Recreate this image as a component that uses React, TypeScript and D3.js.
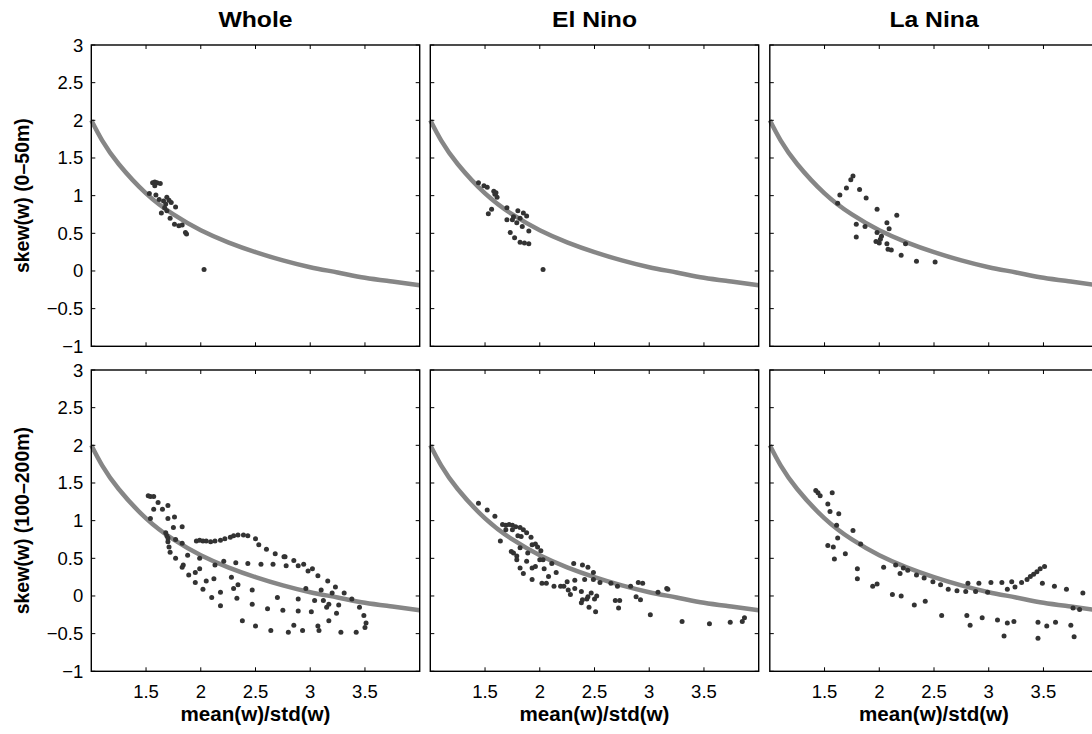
import React, { useRef, useEffect } from "react";
import * as d3 from "d3";

// panel titles and row labels
const columns = ["Whole", "El Nino", "La Nina"];
const rowLabels = ["skew(w) (0–50m)", "skew(w) (100–200m)"];

const xTicks = [1.5, 2, 2.5, 3, 3.5];
const yTicks = [-1, -0.5, 0, 0.5, 1, 1.5, 2, 2.5, 3];

// reference curve
const curveX = [1, 1.1, 1.25, 1.5, 1.75, 2, 2.25, 2.5, 2.75, 3, 3.25, 3.5, 3.75, 4];
const curveY = [2.0, 1.73, 1.42, 1.03, 0.75, 0.54, 0.38, 0.25, 0.14, 0.05, -0.02, -0.09, -0.14, -0.19];

// 0-50m
const wholeUpper = [
  [1.56, 1.17], [1.58, 1.18], [1.6, 1.17], [1.63, 1.16], [1.58, 1.13], [1.53, 1.03],
  [1.59, 1.01], [1.62, 0.95], [1.66, 0.93], [1.69, 0.98], [1.71, 0.94], [1.73, 0.91],
  [1.77, 0.85], [1.68, 0.89], [1.67, 0.84], [1.64, 0.77], [1.69, 0.8], [1.72, 0.7],
  [1.76, 0.62], [1.8, 0.6], [1.83, 0.61], [1.87, 0.49], [1.86, 0.51], [2.03, 0.02],
];
const ninoUpper = [
  [1.44, 1.17], [1.49, 1.13], [1.52, 1.11], [1.58, 1.06], [1.6, 1.04], [1.59, 1.02],
  [1.61, 0.98], [1.56, 0.82], [1.53, 0.76], [1.7, 0.84], [1.7, 0.68], [1.75, 0.68],
  [1.8, 0.8], [1.85, 0.77], [1.88, 0.73], [1.79, 0.64], [1.84, 0.59], [1.9, 0.53],
  [1.73, 0.51], [1.77, 0.44], [1.82, 0.38], [1.86, 0.37], [1.9, 0.36], [2.03, 0.02],
  [1.76, 0.72], [1.82, 0.7],
];
const ninaUpper = [
  [1.76, 1.26], [1.74, 1.21], [1.7, 1.1], [1.64, 1.01], [1.62, 0.9], [1.82, 1.08],
  [1.88, 0.97], [1.98, 0.82], [2.16, 0.74], [2.07, 0.64], [2.09, 0.56], [1.79, 0.62],
  [1.87, 0.59], [1.79, 0.45], [1.98, 0.51], [2.02, 0.46], [2.01, 0.42], [1.97, 0.39],
  [2.0, 0.37], [2.07, 0.36], [2.08, 0.29], [2.11, 0.28], [2.24, 0.36], [2.2, 0.21],
  [2.34, 0.13], [2.51, 0.12],
];

// 100-200m
const wholeLower = [
  [1.52, 1.33], [1.54, 1.32], [1.57, 1.32], [1.54, 1.03], [1.57, 1.15], [1.61, 1.24],
  [1.65, 1.15], [1.7, 1.2], [1.7, 1.03], [1.76, 1.05], [1.83, 0.92], [1.75, 0.91],
  [1.68, 0.84], [1.69, 0.8], [1.7, 0.77], [1.7, 0.72], [1.71, 0.65], [1.72, 0.58],
  [1.77, 0.5], [1.77, 0.75], [1.83, 0.7], [1.88, 0.54], [1.84, 0.41], [1.83, 0.38],
  [1.89, 0.28], [1.95, 0.31], [1.99, 0.36], [1.95, 0.18], [2.02, 0.09], [1.99, 0.5],
  [2.05, 0.2], [2.12, 0.23], [2.1, -0.02], [2.13, 0.41], [2.18, 0.05], [2.18, -0.13],
  [2.21, 0.46], [2.28, 0.25], [2.3, 0.1], [2.32, 0.44], [2.33, -0.03], [2.34, 0.15],
  [2.38, -0.33], [2.43, 0.43], [2.47, 0.08], [2.47, -0.11], [2.5, -0.4], [2.55, 0.42],
  [2.61, -0.17], [2.64, -0.46], [2.66, 0.42], [2.7, -0.02], [2.75, -0.19], [2.77, 0.52],
  [2.78, 0.4], [2.8, -0.48], [2.85, 0.47], [2.85, -0.39], [2.89, 0.4], [2.89, -0.04],
  [2.89, -0.2], [2.93, -0.46], [2.94, 0.42], [2.96, 0.1], [2.98, 0.33], [3.01, -0.21],
  [3.02, 0.36], [3.04, -0.06], [3.07, -0.4], [3.07, 0.27], [3.08, -0.46], [3.1, 0.08],
  [3.12, -0.06], [3.15, -0.15], [3.16, 0.2], [3.17, -0.33], [3.17, -0.11], [3.2, 0.04],
  [3.23, 0.12], [3.24, -0.23], [3.26, -0.12], [3.28, -0.48], [3.31, 0.04], [3.38, -0.04],
  [3.42, -0.48], [3.45, -0.15], [3.49, -0.26], [3.51, -0.36], [3.5, -0.42],
  [1.96, 0.73], [1.99, 0.74], [2.02, 0.73], [2.05, 0.73], [2.09, 0.72], [2.13, 0.73],
  [2.18, 0.74], [2.22, 0.76], [2.27, 0.78], [2.3, 0.8], [2.34, 0.81], [2.39, 0.81],
  [2.43, 0.8], [2.5, 0.76], [2.53, 0.68], [2.6, 0.62], [2.68, 0.56], [2.76, 0.52],
];
const ninoLower = [
  [1.44, 1.23], [1.52, 1.14], [1.59, 1.06], [1.66, 0.95], [1.69, 0.94], [1.72, 0.95],
  [1.75, 0.94], [1.78, 0.92], [1.82, 0.91], [1.85, 0.88], [1.88, 0.84], [1.92, 0.78],
  [1.64, 0.73], [1.69, 0.88], [1.75, 0.88], [1.8, 0.8], [1.83, 0.79], [1.82, 0.64],
  [1.74, 0.59], [1.76, 0.57], [1.79, 0.53], [1.79, 0.48], [1.82, 0.37], [1.85, 0.3],
  [1.88, 0.46], [1.89, 0.57], [1.93, 0.68], [1.96, 0.69], [1.98, 0.65], [2.01, 0.6],
  [2.03, 0.48], [1.93, 0.37], [1.96, 0.39], [1.93, 0.22], [2.0, 0.48], [2.04, 0.36],
  [2.02, 0.17], [2.06, 0.17], [2.08, 0.26], [2.13, 0.13], [2.15, 0.31], [2.11, 0.43],
  [2.19, 0.13], [2.22, 0.13], [2.25, 0.19], [2.26, 0.08], [2.28, 0.02], [2.31, 0.43],
  [2.32, 0.21], [2.32, 0.1], [2.39, 0.41], [2.38, 0.06], [2.41, 0.22], [2.38, -0.09],
  [2.39, -0.05], [2.43, -0.04], [2.44, -0.01], [2.44, 0.38], [2.45, -0.15], [2.47, 0.04],
  [2.49, 0.22], [2.49, 0.31], [2.5, -0.04], [2.51, -0.21], [2.52, 0.0], [2.55, 0.18],
  [2.65, 0.17], [2.69, -0.06], [2.71, 0.13], [2.72, -0.16], [2.73, -0.06], [2.83, 0.13],
  [2.88, -0.01], [2.9, 0.18], [2.94, 0.17], [2.92, -0.05], [3.01, -0.25], [3.08, 0.05],
  [3.16, 0.1], [3.17, 0.09], [3.3, -0.34], [3.55, -0.37], [3.74, -0.35], [3.85, -0.34],
  [3.87, -0.29],
];
const ninaLower = [
  [1.42, 1.4], [1.44, 1.37], [1.46, 1.33], [1.57, 1.37], [1.53, 1.22], [1.55, 1.12],
  [1.63, 1.09], [1.61, 0.94], [1.62, 0.77], [1.53, 0.67], [1.58, 0.65], [1.59, 0.49],
  [1.69, 0.56], [1.76, 0.87], [1.8, 0.36], [1.8, 0.23], [1.83, 0.69], [1.94, 0.13],
  [1.98, 0.16], [2.04, 0.38], [2.12, 0.02], [2.15, 0.41], [2.19, 0.3], [2.2, 0.0],
  [2.22, 0.37], [2.26, 0.34], [2.32, -0.12], [2.34, 0.28], [2.41, 0.24], [2.42, -0.07],
  [2.49, 0.19], [2.56, 0.15], [2.57, -0.26], [2.63, 0.09], [2.71, 0.07], [2.79, 0.06],
  [2.8, -0.26], [2.81, 0.17], [2.83, -0.39], [2.88, 0.06], [2.91, 0.17], [2.94, -0.29],
  [2.99, 0.05], [3.02, 0.18], [3.08, -0.32], [3.12, 0.18], [3.14, -0.53], [3.17, -0.36],
  [3.17, 0.09], [3.21, 0.19], [3.23, -0.34], [3.24, 0.12], [3.3, 0.18], [3.35, 0.22],
  [3.38, 0.26], [3.41, 0.29], [3.44, 0.32], [3.47, 0.36], [3.51, 0.39], [3.49, 0.17],
  [3.45, -0.35], [3.45, -0.56], [3.53, -0.4], [3.6, 0.13], [3.61, -0.35], [3.71, 0.09],
  [3.75, -0.39], [3.77, -0.16], [3.78, -0.54], [3.83, -0.18], [3.86, 0.04],
];

const panels = [wholeUpper, ninoUpper, ninaUpper, wholeLower, ninoLower, ninaLower];

const W = 1092;
const H = 734;
const panelLeft = [91.3, 430.3, 769.8];
const panelTop = [45, 370];
const panelW = 328.4;
const panelH = 301.3;
const font = "'Liberation Sans', Arial, Helvetica, sans-serif";

const fmt = (d: number) => (d < 0 ? "\u2212" + Math.abs(d) : String(d));

const App = () => {
  const svgRef = useRef<SVGSVGElement>(null);

  useEffect(() => {
    const svg = d3.select(svgRef.current);
    svg.selectAll("*").remove();

    const label = (
      tx: number, ty: number, text: string, size: number,
      weight: string, anchor: string, sx = 1, rotate = 0
    ) => {
      svg
        .append("text")
        .attr("transform", `translate(${tx},${ty}) scale(${sx},1)${rotate ? ` rotate(${rotate})` : ""}`)
        .attr("font-family", font)
        .attr("font-size", size)
        .attr("font-weight", weight)
        .attr("text-anchor", anchor)
        .attr("fill", "#000")
        .text(text);
    };

    panels.forEach((pts, idx) => {
      const r = Math.floor(idx / 3);
      const c = idx % 3;
      const x0 = panelLeft[c];
      const y0 = panelTop[r];
      const x = d3.scaleLinear().domain([1, 4]).range([x0, x0 + panelW]);
      const y = d3.scaleLinear().domain([-1, 3]).range([y0 + panelH, y0]);
      const g = svg.append("g");

      // reference curve
      const line = d3
        .line<number>()
        .x((d, i) => x(curveX[i]))
        .y((d) => y(d))
        .curve(d3.curveNatural);
      g.append("path")
        .datum(curveY)
        .attr("d", line)
        .attr("fill", "none")
        .attr("stroke", "#868686")
        .attr("stroke-width", 4.5);

      // scatter
      g.selectAll("circle")
        .data(pts)
        .join("circle")
        .attr("cx", (d) => x(d[0]))
        .attr("cy", (d) => y(d[1]))
        .attr("r", 2.5)
        .attr("fill", "#333");

      // inward ticks on all four sides
      const tl = 4;
      xTicks.forEach((t) => {
        g.append("line").attr("x1", x(t)).attr("x2", x(t)).attr("y1", y(-1)).attr("y2", y(-1) - tl).attr("stroke", "#000");
        g.append("line").attr("x1", x(t)).attr("x2", x(t)).attr("y1", y(3)).attr("y2", y(3) + tl).attr("stroke", "#000");
      });
      yTicks.forEach((t) => {
        g.append("line").attr("x1", x(1)).attr("x2", x(1) + tl).attr("y1", y(t)).attr("y2", y(t)).attr("stroke", "#000");
        g.append("line").attr("x1", x(4)).attr("x2", x(4) - tl).attr("y1", y(t)).attr("y2", y(t)).attr("stroke", "#000");
      });

      // box
      g.append("rect")
        .attr("x", x0)
        .attr("y", y0)
        .attr("width", panelW)
        .attr("height", panelH)
        .attr("fill", "none")
        .attr("stroke", "#000")
        .attr("stroke-width", 1.4);

      if (c === 0) {
        yTicks.forEach((t) => label(x0 - 8, y(t) + 6.5, fmt(t), 18.5, "normal", "end"));
        label(29, y0 + panelH / 2, rowLabels[r], 19.5, "bold", "middle", 1.05, -90);
      }
      if (r === 0) {
        label(x0 + panelW / 2, 27, columns[c], 21.5, "bold", "middle", 1.15);
      }
      if (r === 1) {
        xTicks.forEach((t) => label(x(t), 698, fmt(t), 18.5, "normal", "middle"));
        label(x0 + panelW / 2, 721, "mean(w)/std(w)", 20, "bold", "middle", 1.03);
      }
    });
  }, []);

  return (
    <div style={{ position: "absolute", left: 0, top: 0 }}>
      <svg ref={svgRef} width={W} height={H} style={{ display: "block", background: "#fff" }}></svg>
    </div>
  );
};

export default App;
